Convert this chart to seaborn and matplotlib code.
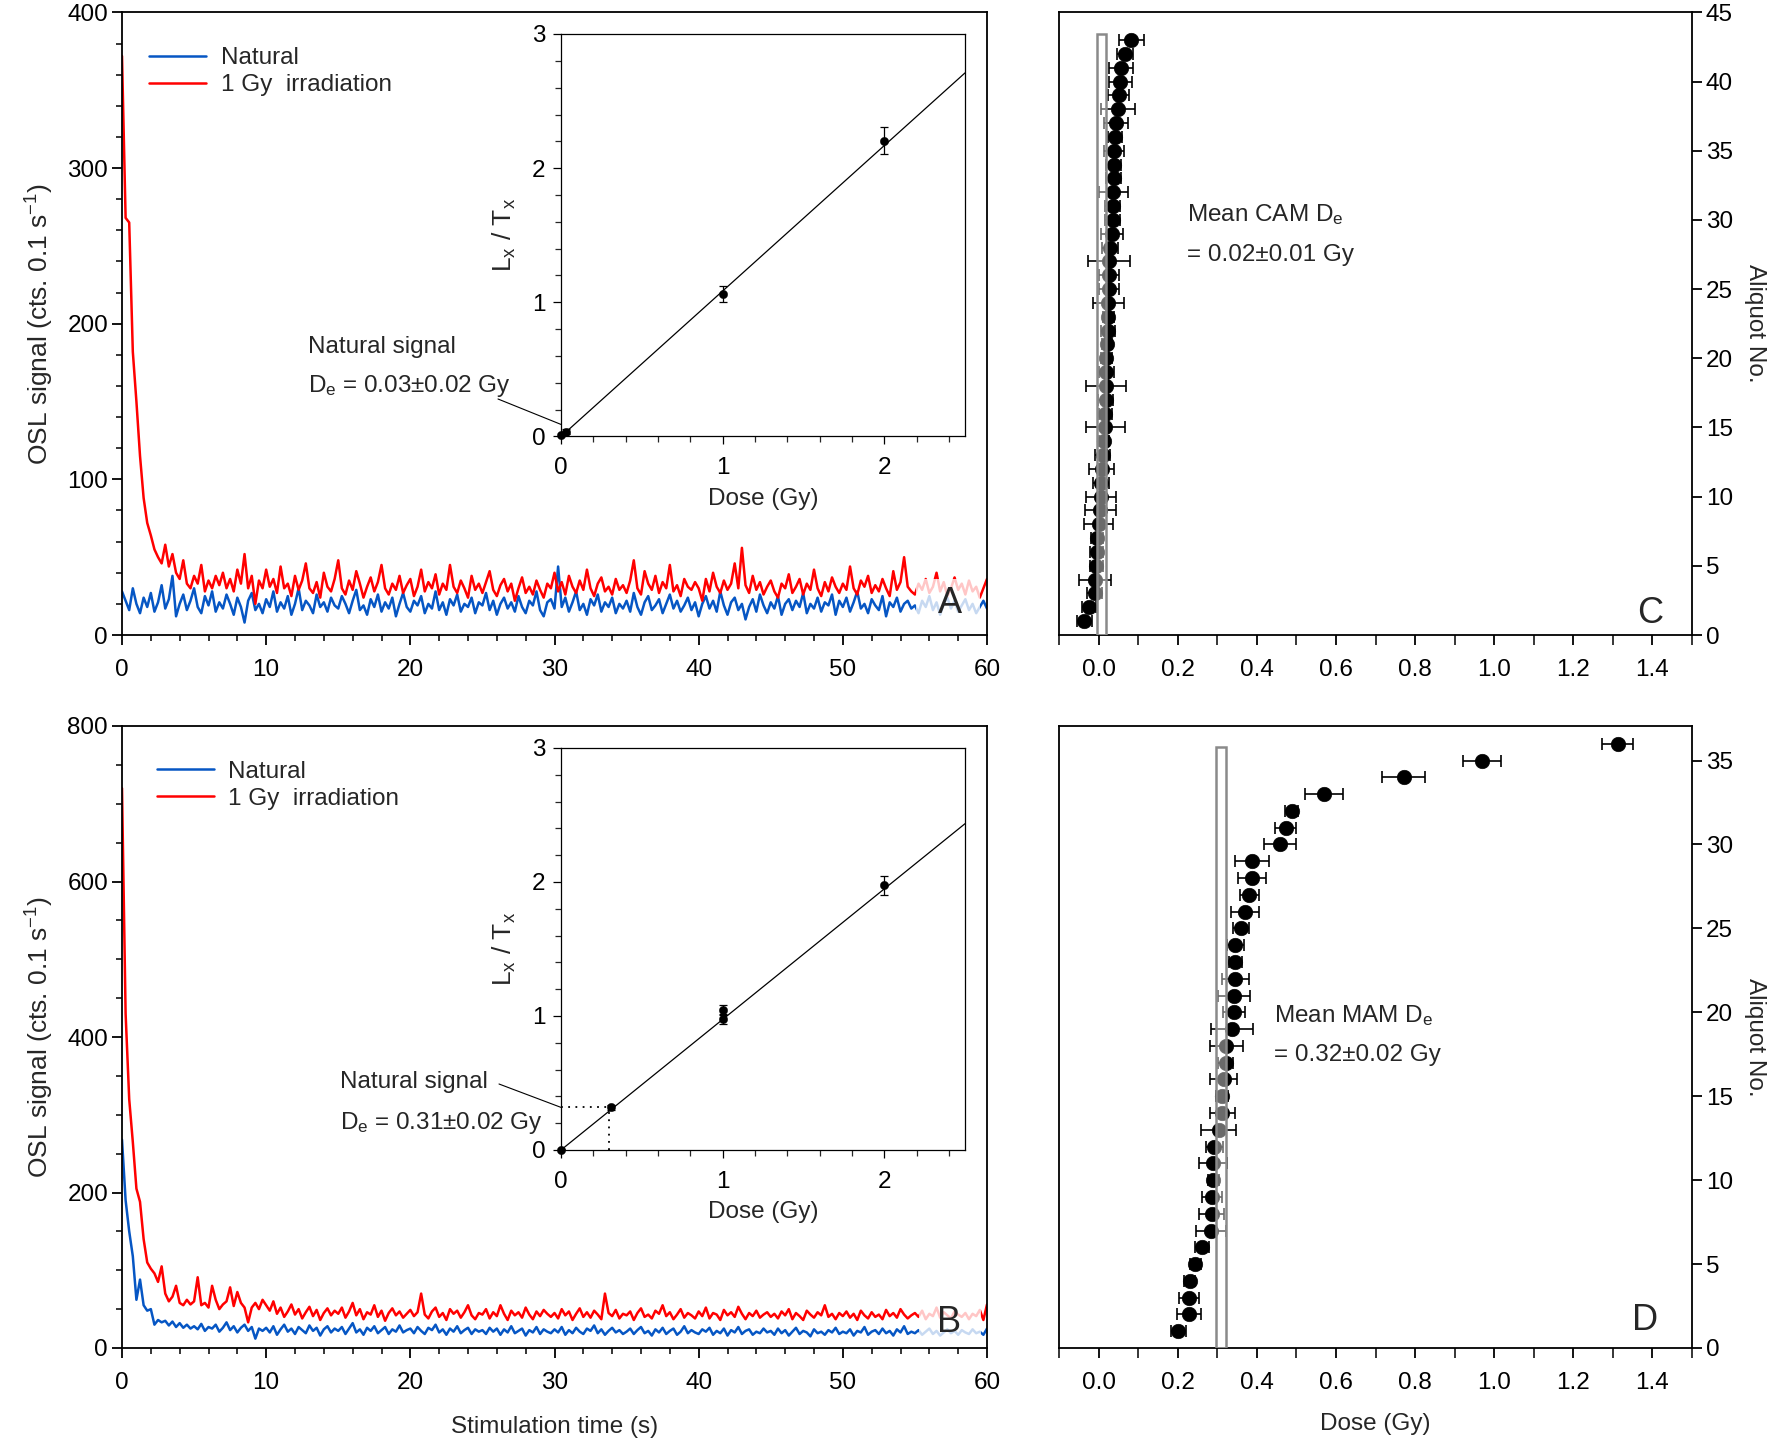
"""
plot.py - OSL decay curves, dose-response insets and De distributions (A-D)
Run: python plot.py
"""

import numpy as np
import matplotlib
matplotlib.use("Agg")
import matplotlib.pyplot as plt
from matplotlib.patches import Rectangle
from matplotlib.ticker import MultipleLocator
import seaborn as sns

# ─────────────────────────────────────────────
# Data
# ─────────────────────────────────────────────
DT = 0.25  # channel width used for the traced curves (s)

# Panel A - OSL decay curves
a_natural = [
    28, 22, 16, 30, 20, 14, 24, 18, 27, 15, 21, 32, 17, 23, 38, 12, 20, 26, 16, 22,
    30, 18, 14, 25, 19, 28, 15, 21, 17, 26, 20, 13, 24, 18, 8, 22, 27, 16, 20, 14,
    23, 18, 28, 15, 21, 17, 25, 13, 20, 30, 16, 22, 19, 14, 26, 18, 21, 15, 24, 19,
    17, 25, 20, 14, 22, 29, 16, 19, 13, 23, 18, 26, 15, 21, 17, 24, 12, 20, 27, 18,
    15, 22, 19, 25, 14, 20, 17, 28, 16, 21, 13, 23, 19, 26, 15, 20, 18, 24, 14, 21,
    19, 27, 16, 22, 13, 20, 24, 17, 21, 15, 25, 18, 14, 22, 19, 28, 16, 12, 21, 23,
    17, 44, 18, 24, 15, 21, 28, 16, 20, 13, 23, 19, 26, 15, 21, 18, 24, 14, 20, 17,
    22, 15, 27, 18, 13, 21, 25, 16, 19, 23, 14, 20, 26, 17, 22, 15, 19, 24, 16, 21,
    12, 20, 25, 17, 22, 15, 28, 19, 13, 21, 24, 16, 20, 10, 18, 23, 15, 26, 19, 14,
    21, 17, 25, 13, 20, 23, 16, 22, 18, 27, 14, 20, 17, 24, 15, 21, 19, 26, 13, 22,
    18, 24, 15, 21, 28, 17, 20, 14, 23, 19, 16, 25, 12, 21, 18, 24, 15, 20, 22, 17,
    19, 14, 22, 18, 25, 16, 21, 13, 20, 24, 17, 22, 15, 19, 23, 16, 20, 14, 18, 22, 17,
]
a_irradiated = [
    372, 268, 265, 182, 150, 115, 88, 72, 64, 55, 50, 46, 58, 44, 52, 40, 36, 48, 33, 30,
    38, 33, 45, 28, 35, 30, 38, 32, 40, 30, 36, 28, 42, 33, 52, 30, 38, 20, 35, 30,
    42, 31, 36, 27, 44, 30, 33, 25, 38, 29, 35, 46, 30, 27, 34, 24, 40, 31, 28, 36,
    48, 30, 26, 35, 29, 41, 33, 24, 31, 37, 28, 34, 45, 30, 26, 33, 29, 38, 27, 32,
    36, 25, 31, 42, 28, 34, 30, 39, 26, 33, 29, 45, 31, 27, 35, 30, 24, 38, 29, 33,
    27, 34, 41, 29, 25, 32, 36, 28, 33, 22, 30, 37, 27, 31, 26, 35, 29, 24, 33, 30,
    40, 28, 34, 26, 38, 31, 27, 35, 29, 42, 30, 25, 33, 37, 28, 31, 26, 36, 29, 32,
    27, 35, 48, 30, 26, 41, 33, 29, 38, 27, 34, 30, 45, 28, 32, 25, 36, 31, 29, 34,
    30, 22, 36, 28, 40, 31, 27, 35, 29, 33, 46, 30, 56, 32, 27, 38, 29, 34, 26, 31,
    35, 28, 24, 33, 30, 39, 27, 31, 36, 26, 33, 29, 42, 30, 25, 34, 28, 37, 31, 27,
    33, 29, 44, 30, 26, 35, 31, 38, 27, 32, 28, 36, 30, 25, 41, 29, 34, 50, 31, 28,
    26, 33, 29, 36, 27, 31, 40, 28, 34, 25, 30, 37, 29, 33, 26, 35, 28, 31, 24, 30, 36,
]

# Panel B - OSL decay curves
b_natural = [
    268, 190, 150, 118, 62, 88, 55, 48, 50, 30, 36, 33, 35, 29, 34, 27, 32, 26, 30, 25,
    28, 24, 31, 22, 27, 25, 30, 21, 26, 33, 23, 28, 20, 26, 30, 22, 27, 12, 25, 22,
    26, 20, 28, 17, 24, 30, 21, 25, 18, 27, 23, 19, 29, 22, 26, 16, 24, 28, 20, 25,
    22, 27, 18, 25, 32, 20, 24, 17, 26, 22, 28, 19, 23, 27, 18, 24, 21, 29, 20, 23,
    25, 19, 27, 22, 18, 26, 23, 30, 20, 24, 17, 25, 21, 28, 19, 23, 26, 18, 24, 21,
    23, 18, 26, 21, 25, 17, 24, 20, 28, 19, 22, 25, 16, 23, 20, 27, 18, 24, 21, 19,
    24, 20, 27, 17, 23, 19, 26, 21, 18, 25, 22, 29, 19, 24, 17, 22, 26, 20, 23, 18,
    21, 25, 18, 23, 27, 19, 22, 16, 24, 20, 26, 18, 22, 25, 17, 21, 28, 19, 23, 20,
    18, 24, 21, 26, 17, 22, 19, 25, 16, 23, 20, 27, 18, 22, 24, 17, 21, 19, 25, 20,
    22, 17, 25, 19, 23, 16, 21, 26, 18, 22, 20, 15, 24, 19, 21, 17, 23, 20, 26, 18,
    21, 19, 24, 16, 22, 20, 27, 17, 21, 23, 18, 25, 19, 22, 16, 24, 20, 28, 18, 21,
    19, 23, 17, 21, 25, 18, 22, 16, 20, 24, 19, 22, 17, 23, 20, 18, 24, 19, 21, 17, 25,
]
b_irradiated = [
    720, 430, 320, 265, 205, 188, 140, 110, 102, 96, 85, 105, 70, 60, 66, 80, 58, 55, 62, 56,
    60, 91, 55, 58, 52, 80, 62, 50, 56, 60, 78, 54, 72, 58, 52, 33, 52, 58, 50, 62,
    55, 48, 60, 44, 52, 40, 47, 56, 43, 50, 38, 46, 53, 41, 49, 36, 45, 51, 42, 48,
    44, 52, 39, 47, 58, 42, 50, 37, 46, 43, 55, 40, 48, 35, 45, 51, 42, 47, 39, 44,
    49, 41, 46, 70, 43, 38, 47, 52, 40, 45, 36, 50, 44, 48, 39, 46, 55, 42, 37, 45,
    43, 50, 38, 46, 41, 55, 44, 36, 48, 42, 46, 39, 52, 43, 37, 47, 41, 49, 44, 40,
    45, 38, 50, 42, 47, 36, 44, 51, 40, 46, 39, 48, 43, 37, 70, 45, 41, 49, 38, 44,
    42, 47, 36, 45, 51, 40, 43, 38, 48, 44, 55, 41, 46, 37, 43, 50, 39, 45, 42, 38,
    47, 41, 52, 38, 45, 43, 36, 49, 42, 46, 40, 53, 44, 37, 45, 41, 48, 39, 43, 46,
    40, 44, 38, 47, 42, 50, 37, 45, 41, 36, 48, 43, 39, 46, 42, 55, 40, 44, 37, 45,
    41, 47, 39, 44, 36, 48, 42, 38, 46, 40, 43, 37, 49, 41, 45, 39, 50, 43, 38, 42,
    45, 40, 48, 37, 44, 41, 52, 39, 46, 42, 38, 47, 43, 40, 45, 37, 44, 41, 49, 36, 56,
]

# Insets - dose response (Lx/Tx)
ins_a_dose  = [0.0, 0.03, 1.0, 2.0]
ins_a_ratio = [0.01, 0.035, 1.062, 2.204]
ins_a_err   = [0.015, 0.02, 0.058, 0.10]
ins_a_slope = 1.084

ins_b_dose  = [0.0, 0.31, 1.0, 1.0, 2.0]
ins_b_ratio = [0.0, 0.318, 1.043, 0.976, 1.974]
ins_b_err   = [0.01, 0.02, 0.037, 0.037, 0.07]
ins_b_slope = 0.974
ins_b_nat_de, ins_b_nat_ratio = 0.30, 0.318

# Panel C - De per aliquot (CAM)
c_de = [
    -0.036, -0.024, -0.010, -0.009, -0.006, -0.005, -0.004, 0.000, 0.004, 0.005,
    0.006, 0.008, 0.010, 0.013, 0.017, 0.017, 0.018, 0.019, 0.020, 0.020,
    0.022, 0.024, 0.025, 0.025, 0.027, 0.027, 0.027, 0.028, 0.034, 0.036,
    0.036, 0.037, 0.038, 0.038, 0.039, 0.041, 0.045, 0.050, 0.051, 0.055,
    0.056, 0.066, 0.083,
]
c_err = [
    0.019, 0.017, 0.018, 0.040, 0.016, 0.016, 0.015, 0.036, 0.039, 0.038,
    0.020, 0.032, 0.020, 0.013, 0.049, 0.017, 0.019, 0.050, 0.020, 0.015,
    0.013, 0.017, 0.014, 0.040, 0.025, 0.025, 0.053, 0.020, 0.027, 0.019,
    0.019, 0.037, 0.018, 0.018, 0.026, 0.017, 0.030, 0.043, 0.027, 0.029,
    0.030, 0.020, 0.032,
]
c_band = (-0.003, 0.020, 43.45)   # CAM band: x from, x to, height

# Panel D - De per aliquot (MAM)
d_de = [
    0.201, 0.228, 0.228, 0.230, 0.245, 0.262, 0.284, 0.286, 0.287, 0.290,
    0.290, 0.293, 0.304, 0.313, 0.313, 0.316, 0.322, 0.323, 0.337, 0.343,
    0.343, 0.346, 0.346, 0.346, 0.361, 0.370, 0.381, 0.387, 0.388, 0.459,
    0.473, 0.488, 0.570, 0.771, 0.969, 1.312,
]
d_err = [
    0.019, 0.030, 0.025, 0.013, 0.015, 0.018, 0.037, 0.031, 0.025, 0.014,
    0.035, 0.021, 0.044, 0.032, 0.015, 0.034, 0.019, 0.041, 0.053, 0.028,
    0.041, 0.033, 0.016, 0.022, 0.020, 0.036, 0.024, 0.035, 0.044, 0.041,
    0.026, 0.016, 0.047, 0.054, 0.047, 0.040,
]
d_band = (0.298, 0.323, 35.8)

# ─────────────────────────────────────────────
# Style
# ─────────────────────────────────────────────
sns.set_theme(style="ticks")
plt.rcParams["font.family"] = ["Liberation Sans", "DejaVu Sans"]
plt.rcParams["mathtext.fontset"] = "custom"
plt.rcParams["mathtext.rm"] = "Liberation Sans"
plt.rcParams["mathtext.it"] = "Liberation Sans:italic"
plt.rcParams["mathtext.default"] = "regular"

BLUE = "#0656c4"
RED = "#ff0000"
FS = 17.5
W, H = 1772, 1443


def rect(l, t, r, b):
    return [l / W, 1 - b / H, (r - l) / W, (b - t) / H]


def fig_xy(px, py):
    return px / W, 1 - py / H


def style_axes(ax, lw=1.3, major=7, minor=4.5, xpad=10, ypad=3):
    for s in ax.spines.values():
        s.set_linewidth(lw)
        s.set_color("black")
    ax.tick_params(which="major", direction="out", length=major, width=lw,
                   labelsize=FS, colors="black")
    ax.tick_params(which="minor", direction="out", length=minor, width=lw)
    ax.tick_params(axis="x", which="major", pad=xpad)
    ax.tick_params(axis="y", which="major", pad=ypad)


fig = plt.figure(figsize=(W / 100, H / 100), dpi=100)
fig.patch.set_facecolor("white")

ax_a = fig.add_axes(rect(122, 12.4, 987, 635))
ax_b = fig.add_axes(rect(122, 726, 987, 1348))
ax_c = fig.add_axes(rect(1059, 12.4, 1692, 635))
ax_d = fig.add_axes(rect(1059, 726, 1692, 1348))
in_a = fig.add_axes(rect(561, 34, 965, 436.5))
in_b = fig.add_axes(rect(561, 748, 965, 1150))

# ─────────────────────────────────────────────
# A & B - decay curves
# ─────────────────────────────────────────────
def draw_decay(ax, nat, irr, ymax, ymaj, ymin, letter, mask, legend_xy):
    t_nat = np.arange(len(nat)) * DT
    t_irr = np.arange(len(irr)) * DT
    sns.lineplot(x=t_nat, y=nat, ax=ax, color=BLUE, lw=1.8, sort=False,
                 label="Natural")
    sns.lineplot(x=t_irr, y=irr, ax=ax, color=RED, lw=1.8, sort=False,
                 label="1 Gy  irradiation")
    ax.set_xlim(0, 60)
    ax.set_ylim(0, ymax)
    ax.xaxis.set_major_locator(MultipleLocator(10))
    ax.xaxis.set_minor_locator(MultipleLocator(2))
    ax.yaxis.set_major_locator(MultipleLocator(ymaj))
    ax.yaxis.set_minor_locator(MultipleLocator(ymin))
    style_axes(ax)
    ax.set_ylabel("OSL signal (cts. 0.1 s$^{-1}$)", fontsize=FS + 1.5, labelpad=8)
    ax.legend(loc="upper left", bbox_to_anchor=legend_xy, frameon=False,
              fontsize=FS, handlelength=2.35, handletextpad=0.6,
              labelspacing=0.2, borderaxespad=0, borderpad=0)
    x0, x1, y0, y1 = mask
    ax.add_patch(Rectangle((x0, y0), x1 - x0, y1 - y0, facecolor="white",
                           edgecolor="none", alpha=0.78, zorder=5))
    ax.text(57.4, letter[1], letter[0], fontsize=26, ha="center",
            va="baseline", zorder=6)


draw_decay(ax_a, a_natural, a_irradiated, 400, 100, 20, ("A", 14.1),
           (55.1, 59.5, 9, 36), (0.031, 0.944))
draw_decay(ax_b, b_natural, b_irradiated, 800, 200, 50, ("B", 20.6),
           (55.3, 59.6, 13, 60), (0.040, 0.944))
ax_b.set_xlabel("Stimulation time (s)", fontsize=FS, labelpad=16)

# ─────────────────────────────────────────────
# Insets - dose response
# ─────────────────────────────────────────────
def draw_inset(ax, dose, ratio, err, slope):
    ax.axline((0, 0), slope=slope, color="black", lw=0.9, zorder=1)
    ax.errorbar(dose, ratio, yerr=err, fmt="none", ecolor="black",
                elinewidth=0.9, capsize=3, capthick=0.9, zorder=2)
    sns.scatterplot(x=dose, y=ratio, ax=ax, color="black", s=36,
                    edgecolor="black", linewidth=0.3, zorder=3, clip_on=False)
    ax.set_xlim(0, 2.5)
    ax.set_ylim(0, 3)
    ax.xaxis.set_major_locator(MultipleLocator(1))
    ax.xaxis.set_minor_locator(MultipleLocator(0.2))
    ax.yaxis.set_major_locator(MultipleLocator(1))
    ax.yaxis.set_minor_locator(MultipleLocator(0.2))
    style_axes(ax, lw=0.9, major=6, minor=4, xpad=9, ypad=5)
    ax.set_xlabel("Dose (Gy)", fontsize=FS, labelpad=6)
    ax.set_ylabel("L$_x$ / T$_x$", fontsize=FS + 1.5, labelpad=10)


draw_inset(in_a, ins_a_dose, ins_a_ratio, ins_a_err, ins_a_slope)
draw_inset(in_b, ins_b_dose, ins_b_ratio, ins_b_err, ins_b_slope)

in_b.plot([0, ins_b_nat_de], [ins_b_nat_ratio, ins_b_nat_ratio], ls=(0, (1, 3)),
          color="black", lw=1.3)
in_b.plot([ins_b_nat_de, ins_b_nat_de], [0, ins_b_nat_ratio], ls=(0, (1, 3)),
          color="black", lw=1.3)

# annotations for the natural signal
for inset, de_txt, (tx, ty1, ty2), start, target in [
    (in_a, "D$_e$ = 0.03\u00b10.02 Gy", (308, 353, 392), (498, 399), (0.0, 0.09)),
    (in_b, "D$_e$ = 0.31\u00b10.02 Gy", (340, 1088, 1129), (499, 1084), (0.0, ins_b_nat_ratio)),
]:
    fig.text(*fig_xy(tx, ty1), "Natural signal", fontsize=FS, va="baseline")
    fig.text(*fig_xy(tx, ty2), de_txt, fontsize=FS, va="baseline")
    inset.annotate("", xy=target, xycoords="data",
                   xytext=fig_xy(*start), textcoords="figure fraction",
                   arrowprops=dict(arrowstyle="-", color="black", lw=0.8,
                                   shrinkA=0, shrinkB=0),
                   annotation_clip=False)

# ─────────────────────────────────────────────
# C & D - De distributions
# ─────────────────────────────────────────────
def draw_de(ax, de, err, band, ymax, letter, txt, txt_xy):
    aliquot = np.arange(1, len(de) + 1)
    ax.errorbar(de, aliquot, xerr=err, fmt="none", ecolor="black",
                elinewidth=1.2, capsize=4.5, capthick=1.2, zorder=2)
    sns.scatterplot(x=de, y=aliquot, ax=ax, color="black", s=110,
                    edgecolor="black", linewidth=0.4, zorder=3)
    b0, b1, bh = band
    ax.add_patch(Rectangle((b0, 0), b1 - b0, bh, facecolor=(1, 1, 1, 0.42),
                           edgecolor="#8a8a8a", lw=1.8, zorder=4))
    ax.set_xlim(-0.1, 1.5)
    ax.set_ylim(0, ymax)
    ax.set_xticks(np.arange(0, 1.41, 0.2))
    ax.set_xticklabels([f"{v:.1f}" for v in np.arange(0, 1.41, 0.2)])
    ax.xaxis.set_minor_locator(MultipleLocator(0.1))
    ax.yaxis.set_major_locator(MultipleLocator(5))
    ax.yaxis.tick_right()
    ax.yaxis.set_label_position("right")
    style_axes(ax, major=7, minor=7)
    ax.set_ylabel("Aliquot No.", fontsize=FS, rotation=270, labelpad=24)
    ax.text(letter[1], letter[2], letter[0], fontsize=26, ha="center",
            va="baseline", zorder=6)
    (l1, l2), (px, py1, py2) = txt, txt_xy
    fig.text(*fig_xy(px, py1), l1, fontsize=FS, va="baseline")
    fig.text(*fig_xy(px, py2), l2, fontsize=FS, va="baseline")


draw_de(ax_c, c_de, c_err, c_band, 45, ("C", 1.394, 0.9),
        ("Mean CAM D$_e$", "= 0.02\u00b10.01 Gy"), (1187, 221, 261))
draw_de(ax_d, d_de, d_err, d_band, 37.06, ("D", 1.381, 1.07),
        ("Mean MAM D$_e$", "= 0.32\u00b10.02 Gy"), (1274, 1022, 1061))
ax_d.set_xlabel("Dose (Gy)", fontsize=FS, labelpad=14)

fig.savefig("out.png", dpi=100, facecolor="white")
print("saved out.png")
